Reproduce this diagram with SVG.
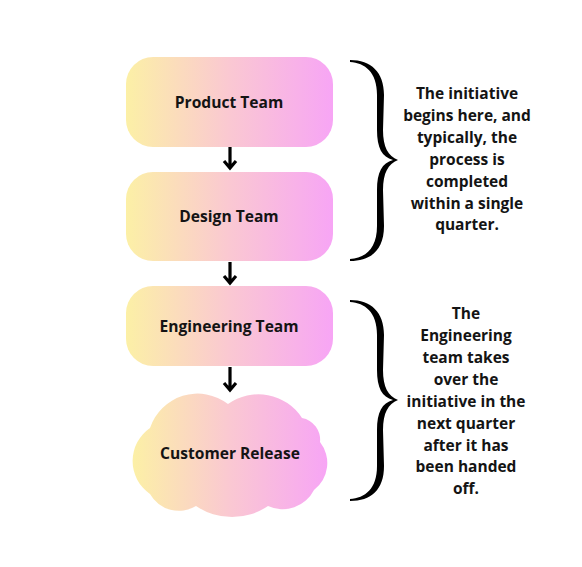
<svg xmlns="http://www.w3.org/2000/svg" xmlns:xlink="http://www.w3.org/1999/xlink" width="582" height="567" viewBox="0 0 582 567">
  <defs>
    <linearGradient id="g" x1="0" y1="0" x2="1" y2="0">
      <stop offset="0" stop-color="#FCF0A6"/>
      <stop offset="0.5" stop-color="#FAC8D2"/>
      <stop offset="1" stop-color="#F7A5F5"/>
    </linearGradient>
    <path id="brace" d="M350,60 C371,60 384,72 384,95 L383,130 C383,147 388,156 398,160 C388,164 383,173 383,190 L384,226 C384,250 371,261 350,261 L350,259 C365,258 377,249 377,226 L377,190 C377,172 382,163 393,160 C382,157 377,148 377,130 L377,95 C377,72 365,63 350,62 Z"/>
  </defs>
  <style>
    .box { fill: url(#g); }
    .lbl { font-family: "Open Sans", "Liberation Sans", sans-serif; font-weight: 700; font-size: 15.6px; fill: #141414; text-anchor: middle; }
    .note { font-family: "Open Sans", "Liberation Sans", sans-serif; font-weight: 700; font-size: 15.5px; fill: #141414; text-anchor: middle; }
    .arr { stroke: #000; stroke-width: 3.2; fill: none; }
    .br { fill: #000; }
  </style>
  <rect width="582" height="567" fill="#fff"/>

  <g id="product-team">
    <rect class="box" x="126" y="57" width="207" height="90" rx="27"/>
    <text class="lbl" x="229" y="108">Product Team</text>
  </g>
  <g id="design-team">
    <rect class="box" x="126" y="172" width="207" height="89" rx="27"/>
    <text class="lbl" x="229" y="222">Design Team</text>
  </g>
  <g id="engineering-team">
    <rect class="box" x="126" y="286" width="207" height="80" rx="27"/>
    <text class="lbl" x="229" y="332">Engineering Team</text>
  </g>
  <g id="customer-release">
    <path class="box" d="M150,428 A50,50 0 0 1 228,404 A52,52 0 0 1 302,418 A22,22 0 0 1 320,442 A34,34 0 0 1 314,490 A35,35 0 0 1 268,506 A64,64 0 0 1 196,506 A33,33 0 0 1 150,494 A40,40 0 0 1 150,428 Z"/>
    <text class="lbl" x="230" y="459">Customer Release</text>
  </g>

  <g id="connectors">
    <path class="arr" d="M230,147 V168 M224,161 L230,168 L236,161"/>
    <path class="arr" d="M230,262 V283 M224,276 L230,283 L236,276"/>
    <path class="arr" d="M230,367 V390 M224,383 L230,390 L236,383"/>
  </g>

  <g id="brace-1">
    <use xlink:href="#brace" class="br"/>
  </g>
  <g id="note-1">
    <text class="note" x="467" y="99">The initiative</text>
    <text class="note" x="467" y="121">begins here, and</text>
    <text class="note" x="467" y="143">typically, the</text>
    <text class="note" x="467" y="165">process is</text>
    <text class="note" x="467" y="187">completed</text>
    <text class="note" x="467" y="209">within a single</text>
    <text class="note" x="467" y="230">quarter.</text>
  </g>
  <g id="brace-2">
    <use xlink:href="#brace" class="br" transform="translate(0,240)"/>
  </g>
  <g id="note-2">
    <text class="note" x="466" y="319">The</text>
    <text class="note" x="466" y="341">Engineering</text>
    <text class="note" x="466" y="363">team takes</text>
    <text class="note" x="466" y="385">over the</text>
    <text class="note" x="466" y="407">initiative in the</text>
    <text class="note" x="466" y="429">next quarter</text>
    <text class="note" x="466" y="451">after it has</text>
    <text class="note" x="466" y="472">been handed</text>
    <text class="note" x="466" y="494">off.</text>
  </g>
</svg>
